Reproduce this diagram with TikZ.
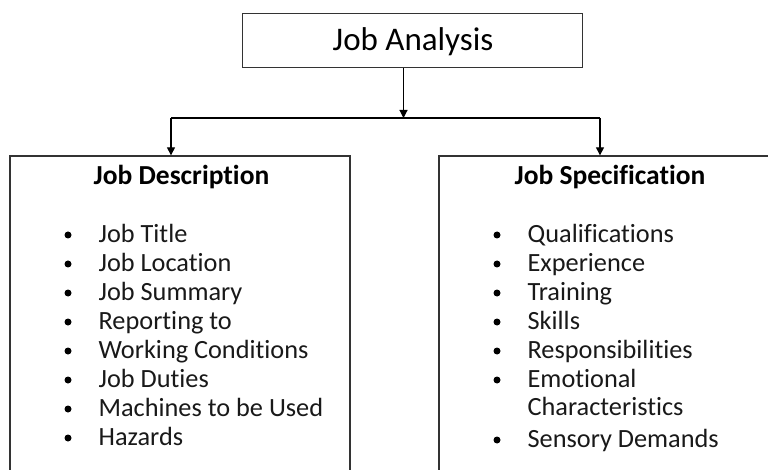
\documentclass[tikz,border=0pt]{standalone}
\usepackage{fontspec}
\setmainfont{Carlito}[Ligatures={NoCommon,NoRare,NoContextual}]
\usetikzlibrary{arrows.meta}
\begin{document}
\begin{tikzpicture}[x=1pt,y=-1pt,
  line width=1.3pt, draw=black!80,
  box/.style={draw=black!80, line width=1.3pt, inner sep=0pt},
  arr/.style={draw=black, line width=1.1pt, -{Triangle[length=8pt,width=8pt]}},
  item/.style={anchor=base west, inner sep=0pt, font=\fontsize{26.3}{28}\selectfont, text=black!90},
  ttl/.style={anchor=base, inner sep=0pt, font=\fontsize{27.5}{30}\selectfont\bfseries},
  dot/.style={circle, fill=black, inner sep=0pt, minimum size=7pt}
]
\useasboundingbox (0,0) rectangle (768,470);
\fill[white] (0,0) rectangle (768,470);
\clip (0,0) rectangle (768,470);
% top box
\node[box, minimum width=340pt, minimum height=54.5pt] (ja) at (412.5,40.5) {};
\node[anchor=base, inner sep=0pt, font=\fontsize{33}{35}\selectfont] (jat) at (413,50.5) {Job Analysis};
% lower boxes
\node[box, minimum width=340pt, minimum height=344pt] (jd) at (180,328) {};
\node[box, minimum width=351pt, minimum height=344pt] (js) at (614.5,328) {};
% connectors
\coordinate (hub) at (403.5,118);
\coordinate (hl) at (171,118);
\coordinate (hr) at (600,118);
\draw[line width=1.1pt, draw=black] (hl) -- (hr);
\draw[arr] (ja.south -| hub) -- (hub);
\draw[arr] (hl) -- (hl |- jd.north);
\draw[arr] (hr) -- (hr |- js.north);
% titles
\node[ttl] (jdt) at (181.5,185) {Job Description};
\node[ttl] (jst) at (610,185) {Job Specification};
% left list
\foreach \t [count=\i] in {Job Title, Job Location, Job Summary, Reporting to, Working Conditions, Job Duties, Machines to be Used, Hazards} {
  \node[dot] (ld\i) at (68, 235+29*\i-29) {};
  \node[item] (lt\i) at (98, 242.5+29*\i-29) {\t};
}
% right list
\foreach \t/\y [count=\i] in {Qualifications/242.5, Experience/271.5, Training/300.5, Skills/329.5, Responsibilities/358.5, Emotional/387.5} {
  \node[dot] (rd\i) at (497, \y-7.5) {};
  \node[item] (rt\i) at (527, \y) {\t};
}
\node[item] (rt7) at (527, 415.5) {Characteristics};
\node[dot] (rd8) at (497, 440) {};
\node[item] (rt8) at (527, 447.5) {Sensory Demands};
\end{tikzpicture}
\end{document}
